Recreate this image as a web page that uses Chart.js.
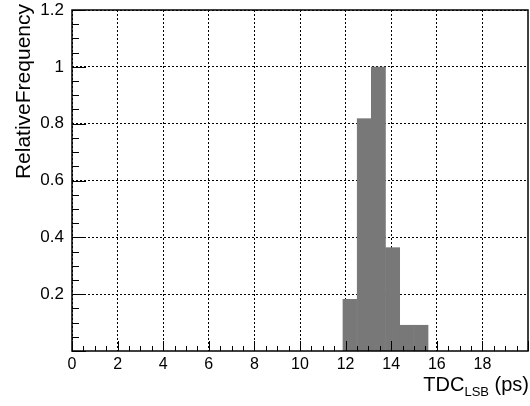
<!DOCTYPE html>
<html>
<head>
<meta charset="utf-8">
<script src="https://cdn.jsdelivr.net/npm/chart.js@4"></script>
<style>
  html, body { margin: 0; padding: 0; background: #fff; }
  #wrap { width: 530px; height: 406px; }
</style>
</head>
<body>
<div id="wrap"><canvas id="histo"></canvas></div>
<script>
// histogram bins (centres in ps, bin width 0.625 ps)
const binCenters = [12.1875, 12.8125, 13.4375, 14.0625, 14.6875, 15.3125];
const relFreq = [0.182, 0.818, 1.0, 0.364, 0.091, 0.091];
const xTicks = [0, 2, 4, 6, 8, 10, 12, 14, 16, 18];
const yTicks = [0.2, 0.4, 0.6, 0.8, 1, 1.2];

const FONT = 'Liberation Sans, Arial, Helvetica, sans-serif';

// ROOT style frame, inward ticks and axis titles
const rootFrame = {
    id: 'rootFrame',
    afterDraw(chart) {
        const ctx = chart.ctx;
        const a = chart.chartArea;
        const xs = chart.scales.x, ys = chart.scales.y;
        ctx.save();
        ctx.strokeStyle = '#000';
        ctx.lineWidth = 1;
        ctx.beginPath();
        for (let v = 0; v <= 20.001; v += 0.5) {
            const px = Math.round(xs.getPixelForValue(v)) + 0.5;
            const len = (Math.abs(v % 2) < 0.01) ? 10 : 5;
            ctx.moveTo(px, a.bottom);
            ctx.lineTo(px, a.bottom - len);
        }
        for (let v = 0; v <= 1.2001; v += 0.05) {
            const py = Math.round(ys.getPixelForValue(v)) + 0.5;
            const major = Math.abs(v / 0.2 - Math.round(v / 0.2)) < 0.01;
            ctx.moveTo(a.left, py);
            ctx.lineTo(a.left + (major ? 14 : 7), py);
        }
        ctx.stroke();

        ctx.lineWidth = 1.5;
        ctx.strokeRect(a.left, a.top, a.right - a.left, a.bottom - a.top);

        // y title
        ctx.fillStyle = '#000';
        ctx.font = '21px ' + FONT;
        ctx.save();
        ctx.translate(30, 4);
        ctx.rotate(-Math.PI / 2);
        ctx.textAlign = 'right';
        ctx.textBaseline = 'alphabetic';
        ctx.fillText('RelativeFrequency', 0, 0);
        ctx.restore();

        // x title with subscript
        const big = '20px ' + FONT, small = '13px ' + FONT;
        ctx.font = big;
        const w1 = ctx.measureText('TDC').width;
        const w3 = ctx.measureText(' (ps)').width;
        ctx.font = small;
        const w2 = ctx.measureText('LSB').width;
        let x0 = 529 - (w1 + w2 + w3);
        const base = 391;
        ctx.textAlign = 'left';
        ctx.font = big;
        ctx.fillText('TDC', x0, base);
        ctx.font = small;
        ctx.fillText('LSB', x0 + w1, base + 5);
        ctx.font = big;
        ctx.fillText(' (ps)', x0 + w1 + w2, base);
        ctx.restore();
    }
};

const ctx = document.getElementById('histo').getContext('2d');
new Chart(ctx, {
    type: 'bar',
    data: {
        datasets: [{
            data: binCenters.map((c, i) => ({ x: c, y: relFreq[i] })),
            backgroundColor: '#787878',
            borderColor: '#787878',
            borderWidth: 0.5,
            barPercentage: 1,
            categoryPercentage: 1
        }]
    },
    options: {
        responsive: true,
        maintainAspectRatio: false,
        animation: false,
        layout: { padding: { top: 10, right: 2, left: 0, bottom: 0 } },
        plugins: {
            legend: { display: false },
            tooltip: { enabled: false }
        },
        scales: {
            x: {
                type: 'linear',
                offset: false,
                min: 0,
                max: 20,
                afterBuildTicks: s => { s.ticks = xTicks.map(v => ({ value: v })); },
                afterFit: s => { s.height = 55; s.paddingLeft = 0; s.paddingRight = 0; },
                ticks: {
                    color: '#000',
                    font: { family: FONT, size: 16 },
                    padding: 4,
                    maxRotation: 0,
                    autoSkip: false
                },
                grid: { color: '#000', lineWidth: 1, drawTicks: false, offset: false },
                border: { display: false, dash: [2, 2] }
            },
            y: {
                min: 0,
                max: 1.2,
                afterBuildTicks: s => { s.ticks = yTicks.map(v => ({ value: v })); },
                afterFit: s => { s.width = 72; s.paddingTop = 0; s.paddingBottom = 0; },
                ticks: {
                    color: '#000',
                    font: { family: FONT, size: 17 },
                    padding: 8,
                    callback: v => String(Math.round(v * 10) / 10)
                },
                grid: { color: '#000', lineWidth: 1, drawTicks: false },
                border: { display: false, dash: [2, 2] }
            }
        }
    },
    plugins: [rootFrame]
});
</script>
</body>
</html>
